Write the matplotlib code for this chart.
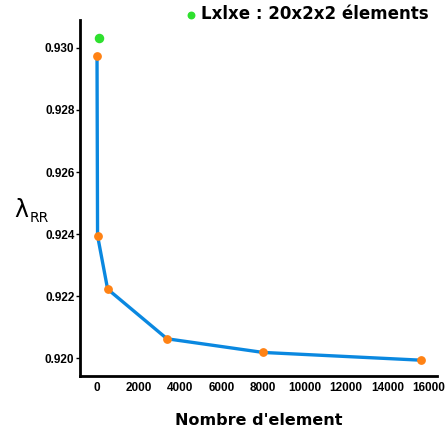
import matplotlib
matplotlib.use("Agg")
import matplotlib.pyplot as plt

# Data
n_elements = [1, 27, 512, 3375, 8000, 15625]
lambda_rr = [0.92975, 0.92395, 0.92223, 0.92063, 0.92019, 0.91994]
ref_x = [80]
ref_y = [0.93032]
ref_label = "Lxlxe : 20x2x2 élements"
xticks = [0, 2000, 4000, 6000, 8000, 10000, 12000, 14000, 16000]
yticks = [0.920, 0.922, 0.924, 0.926, 0.928, 0.930]

fig = plt.figure(figsize=(4.45, 4.34), dpi=100)
ax = fig.add_axes([0.1798, 0.1336, 0.802, 0.8204])

ax.plot(n_elements, lambda_rr, color="#0a88e0", lw=2.4, zorder=2)
ax.scatter(n_elements, lambda_rr, color="#ff8214", s=28, zorder=3)
ax.scatter(ref_x, ref_y, color="#2ee02e", s=34, zorder=3, label=ref_label)

ax.set_xlim(-819, 16390)
ax.set_ylim(0.91943, 0.93090)
ax.set_xticks(xticks)
ax.set_yticks(yticks)
tickfont = dict(family=["Liberation Sans Narrow", "Liberation Sans", "DejaVu Sans"], size=8.5, weight="bold")
ax.set_xticklabels([str(v) for v in xticks], fontdict=tickfont)
ax.set_yticklabels([f"{v:.3f}" for v in yticks], fontdict=tickfont)
ax.tick_params(axis="y", length=3, width=1, pad=1)
ax.tick_params(axis="x", length=0, pad=4)

for s in ["top", "right"]:
    ax.spines[s].set_visible(False)
for s in ["left", "bottom"]:
    ax.spines[s].set_linewidth(2)

ax.set_xlabel("Nombre d'element", fontsize=11.5, fontweight="bold", labelpad=14)
fig.text(0.032, 0.516, "λ", fontsize=17, ha="left", va="center")
fig.text(0.066, 0.498, "RR", fontsize=10, ha="left", va="center")

leg = fig.legend(loc="upper left", bbox_to_anchor=(0.377, 1.022), frameon=False,
                 prop=dict(size=12, weight="bold"), handletextpad=0.1,
                 markerscale=0.8, handlelength=1.0)

fig.savefig("out.png", dpi=100)
